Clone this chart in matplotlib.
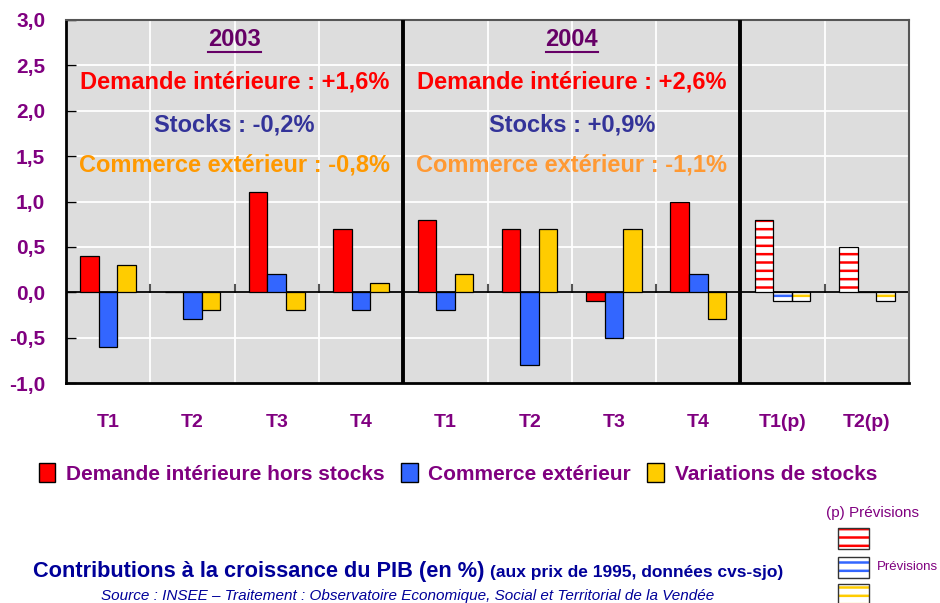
import numpy as np
import matplotlib.pyplot as plt
from matplotlib.patches import Patch, Rectangle

plt.rcParams['font.family'] = ['Liberation Sans', 'DejaVu Sans']
plt.rcParams['hatch.linewidth'] = 1.8

# data
categories = ['T1', 'T2', 'T3', 'T4', 'T1', 'T2', 'T3', 'T4', 'T1(p)', 'T2(p)']
demande = [0.4, 0.0, 1.1, 0.7, 0.8, 0.7, -0.1, 1.0, 0.8, 0.5]
commerce = [-0.6, -0.3, 0.2, -0.2, -0.2, -0.8, -0.5, 0.2, -0.1, 0.0]
stocks = [0.3, -0.2, -0.2, 0.1, 0.2, 0.7, 0.7, -0.3, -0.1, -0.1]
prevision = [False] * 8 + [True, True]

years = ['2003', '2004']
year_lines = [
    ['Demande intérieure : +1,6%', 'Stocks : -0,2%', 'Commerce extérieur : -0,8%'],
    ['Demande intérieure : +2,6%', 'Stocks : +0,9%', 'Commerce extérieur : -1,1%'],
]

red = '#ff0000'
blue = '#3366ff'
yellow = '#ffcc00'
purple = '#800080'

fig = plt.figure(figsize=(9.4, 6.03), dpi=100)
ax = fig.add_axes([66 / 940, 220 / 603, 843 / 940, 363 / 603])
ax.set_facecolor('#dddddd')

x = np.arange(len(categories))
w = 0.22
series = [(demande, red, -w), (commerce, blue, 0), (stocks, yellow, w)]
for vals, col, off in series:
    for xi, v, p in zip(x, vals, prevision):
        if p:
            ax.bar(xi + off, v, w, color='white', edgecolor=col, hatch='--', linewidth=0, zorder=3)
            ax.bar(xi + off, v, w, fill=False, edgecolor='black', linewidth=0.9, zorder=4)
        else:
            ax.bar(xi + off, v, w, color=col, edgecolor='black', linewidth=0.9, zorder=3)

ax.set_xlim(-0.5, len(categories) - 0.5)
ax.set_ylim(-1, 3)
yt = np.arange(-1, 3.01, 0.5)
ax.set_yticks(yt)
ax.set_yticklabels([f'{v:.1f}'.replace('.', ',') for v in yt])
ax.set_xticks(x)
ax.set_xticklabels(categories)

# grid
for v in yt[1:-1]:
    ax.axhline(v, color='white', lw=1.3, zorder=1)
for b in np.arange(0.5, len(categories) - 0.5, 1):
    ax.axvline(b, color='white', lw=1.3, zorder=1)
    ax.plot([b, b], [0, 0.08], color='#555555', lw=1.5, zorder=2)
ax.axhline(0, color='black', lw=1.3, zorder=2)
for b in [3.5, 7.5]:
    ax.axvline(b, ymin=0, ymax=0.995, color='black', lw=2.8, zorder=5)

for s in ['left', 'bottom']:
    ax.spines[s].set_linewidth(2)
    ax.spines[s].set_color('black')
for s in ['top', 'right']:
    ax.spines[s].set_linewidth(1.5)
    ax.spines[s].set_color('#555555')

ax.tick_params(axis='y', direction='in', length=7, width=1, pad=15,
               labelsize=15, labelcolor=purple)
ax.tick_params(axis='x', length=0, pad=22, labelsize=14, labelcolor=purple)
for lab in ax.get_xticklabels() + ax.get_yticklabels():
    lab.set_fontweight('bold')

# year annotations
centers = [1.5, 5.5]
for c, yr, lines in zip(centers, years, year_lines):
    ax.text(c, 2.79, yr, ha='center', va='center', fontsize=17, fontweight='bold',
            color='#660066', zorder=6)
    ax.plot([c - 0.31, c + 0.31], [2.645, 2.645], color='#660066', lw=1.5, zorder=6)
    ax.text(c, 2.32, lines[0], ha='center', va='center', fontsize=17, fontweight='bold', color=red, zorder=6)
    ax.text(c, 1.84, lines[1], ha='center', va='center', fontsize=17, fontweight='bold', color='#333399', zorder=6)
    ax.text(c, 1.40, lines[2], ha='center', va='center', fontsize=17, fontweight='bold',
            color='#ff9900' if c < 3 else '#ff9933', zorder=6)

# legend
handles = [Patch(facecolor=red, edgecolor='black', label='Demande intérieure hors stocks'),
           Patch(facecolor=blue, edgecolor='black', label='Commerce extérieur'),
           Patch(facecolor=yellow, edgecolor='black', label='Variations de stocks')]
leg = fig.legend(handles=handles, loc='center', bbox_to_anchor=(0.487, 0.215), ncol=3,
                 frameon=False, handlelength=0.8, handleheight=1.0, handletextpad=0.5,
                 columnspacing=0.8, prop={'size': 15, 'weight': 'bold'})
for t in leg.get_texts():
    t.set_color(purple)

# forecast legend
fig.text(872 / 940, 1 - 513 / 603, '(p) Prévisions', ha='center', va='center', fontsize=11, color=purple)
for yy, col in zip([528, 557, 584], [red, blue, yellow]):
    r = Rectangle((838 / 940, 1 - (yy + 21) / 603), 31 / 940, 21 / 603, transform=fig.transFigure,
                  facecolor='white', edgecolor=col, hatch='--', linewidth=0)
    fig.patches.append(r)
    r2 = Rectangle((838 / 940, 1 - (yy + 21) / 603), 31 / 940, 21 / 603, transform=fig.transFigure,
                   fill=False, edgecolor='#333333', linewidth=1)
    fig.patches.append(r2)
fig.text(877 / 940, 1 - 567 / 603, 'Prévisions', ha='left', va='center', fontsize=9.5, color=purple)

# title and source
fig.text(33 / 940, 1 - 571 / 603, 'Contributions à la croissance du PIB (en %)', ha='left', va='center',
         fontsize=15.7, fontweight='bold', color='#000099')
fig.text(490 / 940, 1 - 573 / 603, '(aux prix de 1995, données cvs-sjo)', ha='left', va='center',
         fontsize=12.5, fontweight='bold', color='#000099')
fig.text(408 / 940, 1 - 596 / 603, 'Source : INSEE – Traitement : Observatoire Economique, Social et Territorial de la Vendée',
         ha='center', va='center', fontsize=11, style='italic', color='#000099')

fig.savefig('out.png', dpi=100)
